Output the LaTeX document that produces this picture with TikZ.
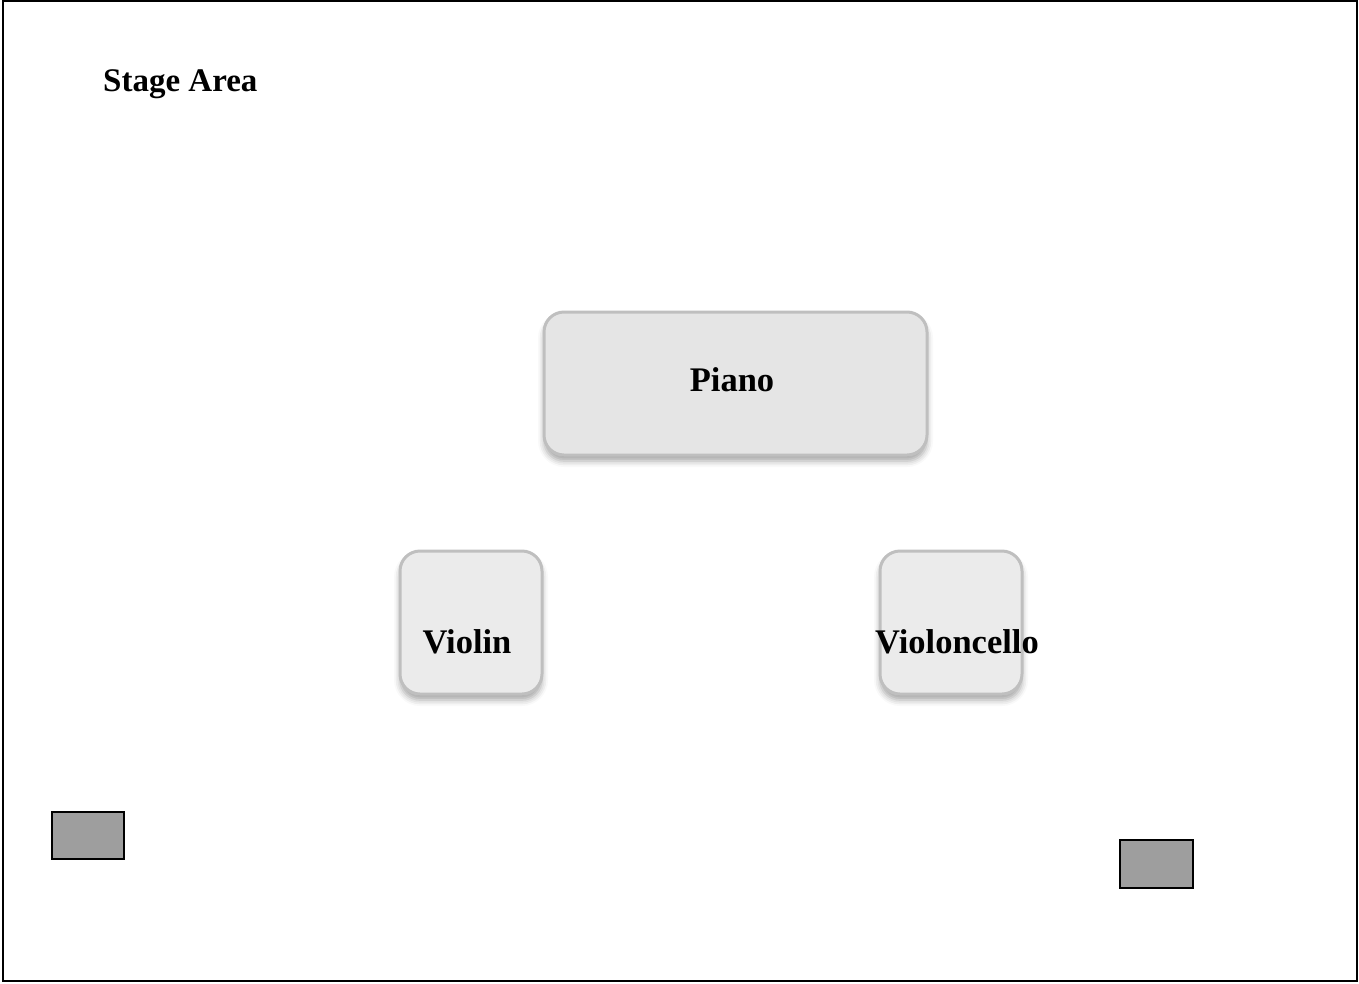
\documentclass[tikz,border=0pt]{standalone}
\usepackage{fontspec}
\setmainfont{Liberation Serif}
\usetikzlibrary{shadows.blur}
\begin{document}
\begin{tikzpicture}[x=1pt,y=-1pt,
  inst/.style={draw=black!25, line width=3pt, rounded corners=20pt, fill=#1,
    blur shadow={shadow xshift=0pt, shadow yshift=-6pt, shadow blur radius=6pt, shadow opacity=35}},
  lbl/.style={font=\fontsize{34.5}{40}\selectfont\bfseries, inner sep=0pt},
  seat/.style={draw=black, line width=1.2pt, fill=black!38}]
\useasboundingbox (0,0) rectangle (1359,983);
\draw[line width=1.2pt] (3,1) rectangle (1357,981);
\node[lbl, font=\fontsize{33}{38}\selectfont\bfseries, anchor=west] (stage) at (103,84) {Stage Area};
\path[inst=black!10] (544,312) rectangle (927,455);
\path[inst=black!8] (400,551) rectangle (542,694);
\path[inst=black!8] (880,551) rectangle (1022,694);
\node[lbl] (piano) at (732,380) {Piano};
\node[lbl] (violin) at (467,642) {Violin};
\node[lbl] (cello) at (957,642) {Violoncello};
\node[seat, minimum width=72pt, minimum height=47pt, inner sep=0pt] (seatl) at (88,835.5) {};
\node[seat, minimum width=73pt, minimum height=48pt, inner sep=0pt] (seatr) at (1156.5,864) {};
\end{tikzpicture}
\end{document}
